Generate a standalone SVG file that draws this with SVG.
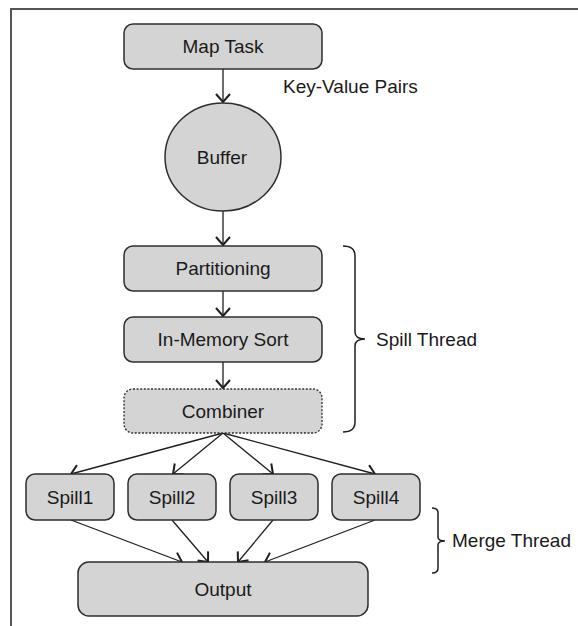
<svg xmlns="http://www.w3.org/2000/svg" width="578" height="626" viewBox="0 0 578 626">
<style>
.box{fill:#d4d4d4;stroke:#2e2e2e;stroke-width:1.5}
.dash{stroke-dasharray:2 1.6;stroke-width:1.3}
.t{font-family:"Liberation Sans",Arial,sans-serif;font-size:19px;fill:#1a1a1a;text-anchor:middle}
.lbl{font-family:"Liberation Sans",Arial,sans-serif;font-size:19px;fill:#1a1a1a}
.c{stroke:#1e1e1e;stroke-width:1.3;fill:none;marker-end:url(#ah)}
.br{stroke:#1e1e1e;stroke-width:1.5;fill:none}
</style>
<defs>
<marker id="ah" markerUnits="userSpaceOnUse" markerWidth="20" markerHeight="20" refX="0" refY="0" viewBox="-10 -10 20 20" orient="auto" overflow="visible">
<path d="M-8,-7 L0,0 L-8,7" fill="none" stroke="#1e1e1e" stroke-width="2"/>
</marker>
</defs>
<rect width="578" height="626" fill="#ffffff"/>
<g id="frame"><path d="M578,9 L11,9 L11,626" fill="none" stroke="#555" stroke-width="2"/></g>
<g id="connectors">
<line class="c" x1="223" y1="69" x2="223" y2="102"/>
<line class="c" x1="223" y1="211" x2="223" y2="245"/>
<line class="c" x1="223" y1="291" x2="223" y2="316"/>
<line class="c" x1="223" y1="362" x2="223" y2="388"/>
<line class="c" x1="223" y1="433" x2="71" y2="474"/>
<line class="c" x1="223" y1="433" x2="173" y2="474"/>
<line class="c" x1="223" y1="433" x2="273" y2="474"/>
<line class="c" x1="223" y1="433" x2="375" y2="474"/>
<line class="c" x1="71" y1="520" x2="182" y2="562"/>
<line class="c" x1="172" y1="520" x2="208" y2="562"/>
<line class="c" x1="273" y1="520" x2="238" y2="562"/>
<line class="c" x1="375" y1="520" x2="265" y2="562"/>
</g>
<g id="maptask"><rect class="box" x="124" y="24" width="198" height="45" rx="9"/><text class="t" x="223" y="53">Map Task</text></g>
<g id="kvlabel"><text class="lbl" x="283" y="93">Key-Value Pairs</text></g>
<g id="buffer"><ellipse class="box" cx="223" cy="157" rx="58" ry="54"/><text class="t" x="222" y="164">Buffer</text></g>
<g id="partitioning"><rect class="box" x="124" y="246" width="198" height="45" rx="9"/><text class="t" x="223" y="275">Partitioning</text></g>
<g id="sort"><rect class="box" x="124" y="317" width="198" height="45" rx="9"/><text class="t" x="223" y="346">In-Memory Sort</text></g>
<g id="combiner"><rect class="box dash" x="124" y="389" width="198" height="44" rx="9"/><text class="t" x="223" y="418">Combiner</text></g>
<g id="spill1"><rect class="box" x="26" y="474" width="88" height="46" rx="9"/><text class="t" x="70" y="504">Spill1</text></g>
<g id="spill2"><rect class="box" x="128" y="474" width="88" height="46" rx="9"/><text class="t" x="172" y="504">Spill2</text></g>
<g id="spill3"><rect class="box" x="230" y="474" width="88" height="46" rx="9"/><text class="t" x="274" y="504">Spill3</text></g>
<g id="spill4"><rect class="box" x="332" y="474" width="88" height="46" rx="9"/><text class="t" x="376" y="504">Spill4</text></g>
<g id="output"><rect class="box" x="78" y="562" width="290" height="54" rx="11"/><text class="t" x="223" y="596">Output</text></g>
<g id="spillthread">
<path class="br" d="M343,246 Q355,246 355,256 L355,332 Q355,339 365,339 Q355,339 355,346 L355,422 Q355,432 343,432"/>
<text class="lbl" x="376" y="346">Spill Thread</text>
</g>
<g id="mergethread">
<path class="br" d="M432,508 Q438,508 438,513 L438,537 Q438,541 445,541 Q438,541 438,545 L438,568 Q438,573 432,573"/>
<text class="lbl" x="452" y="547">Merge Thread</text>
</g>
</svg>
